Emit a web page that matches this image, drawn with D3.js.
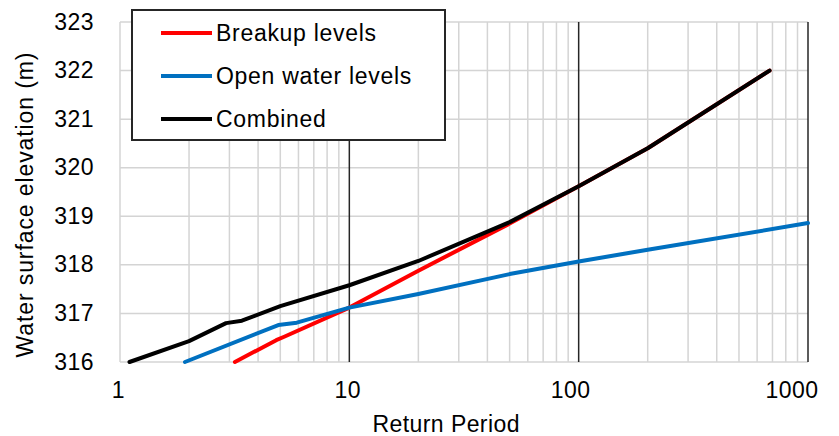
<!DOCTYPE html>
<html>
<head>
    <meta charset="utf-8">
    <title>Water surface elevation vs return period</title>
    <script src="https://d3js.org/d3.v7.min.js"></script>
    <style>
        body { margin: 0; background: #fff; }
        text { font-family: "Liberation Sans", Arial, sans-serif; fill: #000; }
        .grid line { stroke: #d4d4d4; stroke-width: 1.5px; }
        .major line { stroke: #262626; stroke-width: 1.5px; }
        .series { fill: none; stroke-width: 4px; stroke-linejoin: round; stroke-linecap: round; }
    </style>
</head>
<body>
<svg id="chart"></svg>
<script>
    // Data
    var breakupT = [3.17, 4.8, 5.2, 10, 20, 50, 100, 200, 680];
    var breakupLevels = [316.0, 316.45, 316.52, 317.12, 317.88, 318.85, 319.62, 320.4, 322.0];

    var openT = [1.92, 4.9, 5.9, 10, 20, 50, 100, 200, 1000];
    var openLevels = [316.0, 316.76, 316.81, 317.12, 317.4, 317.81, 318.07, 318.31, 318.86];

    var combinedT = [1.1, 2, 2.9, 3.4, 5, 10, 20, 50, 100, 200, 680];
    var combinedLevels = [316.0, 316.43, 316.8, 316.85, 317.15, 317.58, 318.08, 318.88, 319.62, 320.4, 322.0];

    var xTickValues = [1, 10, 100, 1000];
    var yTickValues = [316, 317, 318, 319, 320, 321, 322, 323];

    var seriesNames = ["Breakup levels", "Open water levels", "Combined"];
    var seriesColors = ["#ff0000", "#0070c0", "#000000"];

    var margin = { top: 22, right: 31, bottom: 74, left: 120 },
        W = 839, H = 436,
        width = W - margin.left - margin.right,
        height = H - margin.top - margin.bottom;

    var svg = d3.select("#chart")
        .attr("width", W)
        .attr("height", H)
        .append("g")
        .attr("transform", "translate(" + margin.left + "," + margin.top + ")");

    var x = d3.scaleLog().domain([1, 1000]).range([0, width]);
    var y = d3.scaleLinear().domain([316, 323]).range([height, 0]);

    // minor gridlines: 1..9 x 10^k
    var minor = [];
    [1, 10, 100].forEach(function(base) {
        for (var i = 1; i < 10; i++) minor.push(base * i);
    });

    svg.append("g").attr("class", "grid")
        .selectAll("line")
        .data(minor.filter(function(v) { return xTickValues.indexOf(v) < 1; }))
        .enter().append("line")
        .attr("x1", function(d) { return x(d); })
        .attr("x2", function(d) { return x(d); })
        .attr("y1", 0).attr("y2", height);

    svg.append("g").attr("class", "grid")
        .selectAll("line")
        .data(yTickValues)
        .enter().append("line")
        .attr("x1", 0).attr("x2", width)
        .attr("y1", function(d) { return y(d); })
        .attr("y2", function(d) { return y(d); });

    svg.append("g").attr("class", "major")
        .selectAll("line")
        .data(xTickValues.slice(1))
        .enter().append("line")
        .attr("x1", function(d) { return x(d); })
        .attr("x2", function(d) { return x(d); })
        .attr("y1", 0).attr("y2", height);

    // Y tick labels
    svg.append("g")
        .selectAll("text")
        .data(yTickValues)
        .enter().append("text")
        .attr("x", -26)
        .attr("y", function(d) { return y(d); })
        .attr("dy", "0.33em")
        .attr("text-anchor", "end")
        .style("font-size", "23px")
        .style("letter-spacing", "0.5px")
        .text(function(d) { return d; });

    // X tick labels (Excel nudges the longer ones left)
    svg.append("g")
        .selectAll("text")
        .data(xTickValues)
        .enter().append("text")
        .attr("x", function(d) { return x(d); })
        .attr("dx", function(d) { var n = String(d).length; return n <= 2 ? -1.5 : -(n - 2) * 8; })
        .attr("y", height + 36)
        .attr("text-anchor", "middle")
        .style("font-size", "23px")
        .style("letter-spacing", "0.5px")
        .text(function(d) { return d; });

    // Axis titles
    svg.append("text")
        .attr("x", 326)
        .attr("y", height + 70)
        .attr("text-anchor", "middle")
        .style("font-size", "23px")
        .attr("textLength", 147)
        .attr("lengthAdjust", "spacing")
        .text("Return  Period");

    svg.append("text")
        .attr("transform", "translate(" + (33 - margin.left) + "," + (205 - margin.top) + ") rotate(-90)")
        .attr("text-anchor", "middle")
        .style("font-size", "23px")
        .attr("textLength", 305)
        .attr("lengthAdjust", "spacing")
        .text("Water  surface  elevation  (m)");

    // Lines
    var line = d3.line()
        .x(function(d) { return x(d[0]); })
        .y(function(d) { return y(d[1]); });

    var series = [
        d3.zip(breakupT, breakupLevels),
        d3.zip(openT, openLevels),
        d3.zip(combinedT, combinedLevels)
    ];

    svg.selectAll(".series")
        .data(series)
        .enter().append("path")
        .attr("class", "series")
        .attr("stroke", function(d, i) { return seriesColors[i]; })
        .attr("d", line);

    // Legend
    var legend = svg.append("g")
        .attr("transform", "translate(" + (132 - margin.left) + "," + (10 - margin.top) + ")");

    legend.append("rect")
        .attr("width", 313).attr("height", 130)
        .attr("fill", "#fff")
        .attr("stroke", "#262626")
        .attr("stroke-width", 2);

    var item = legend.selectAll(".item")
        .data(seriesNames)
        .enter().append("g")
        .attr("transform", function(d, i) { return "translate(0," + (23 + i * 43) + ")"; });

    item.append("line")
        .attr("x1", 29).attr("x2", 80)
        .attr("stroke", function(d, i) { return seriesColors[i]; })
        .attr("stroke-width", 4);

    item.append("text")
        .attr("x", 84)
        .attr("dy", "0.36em")
        .style("font-size", "23px")
        .style("letter-spacing", "0.7px")
        .text(function(d) { return d; });
</script>
</body>
</html>
